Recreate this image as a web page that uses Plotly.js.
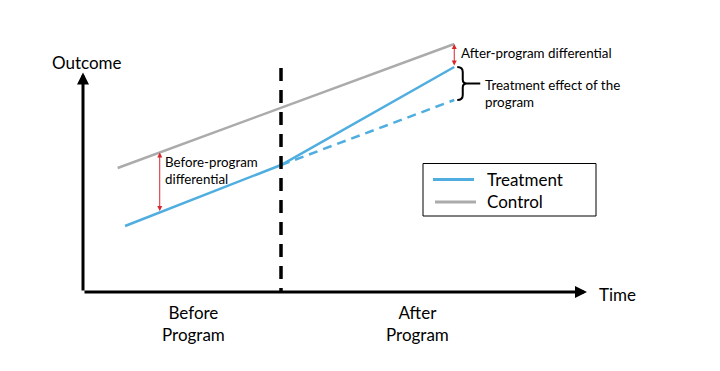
<!DOCTYPE html>
<html>
<head>
<meta charset="utf-8">
<script src="https://cdn.plot.ly/plotly-3.0.1.min.js"></script>
<style>
  html, body { margin: 0; padding: 0; background: #ffffff; }
  #chart { width: 720px; height: 371px; }
</style>
</head>
<body>
<div id="chart"></div>
<script>
// ---- Data (conceptual units: time, outcome) ----
const periodLabels = ['Before<br>Program', 'After<br>Program'];
const periodCenters = [2.23, 6.75];
const programTime = 4;
const controlTime = [0.70, 7.50];
const controlOutcome = [6.20, 12.40];
const treatmentTime = [0.85, 4.00, 7.50];
const treatmentOutcome = [3.30, 6.35, 11.25];
const counterfactualTime = [4.00, 7.50];
const counterfactualOutcome = [6.35, 9.60];
const beforeDiffTime = 1.55;
const seriesNames = ['Treatment', 'Control'];
const seriesColors = ['#4FAEDF', '#ABABAB'];

// ---- Layout geometry ----
const W = 720, H = 371;
const ox = 83, oy = 292, sx = 49.5, sy = 20;
const X = px => (px - ox) / sx;
const Y = py => (oy - py) / sy;
const PX = t => ox + t * sx;
const PY = v => oy - v * sy;
const axisTopOutcome = Y(72.5);
const axisEndTime = X(587);
const programLineTop = Y(68);

function interp(ts, vs, t) {
  for (let i = 0; i < ts.length - 1; i++) {
    if (t >= ts[i] && t <= ts[i + 1]) {
      return vs[i] + (vs[i + 1] - vs[i]) * (t - ts[i]) / (ts[i + 1] - ts[i]);
    }
  }
  return vs[vs.length - 1];
}

const font = 'Lato, "Open Sans", sans-serif';

const traces = [
  { x: controlTime, y: controlOutcome, mode: 'lines', name: seriesNames[1],
    line: { color: seriesColors[1], width: 2.5 }, hoverinfo: 'skip', showlegend: false },
  { x: counterfactualTime, y: counterfactualOutcome, mode: 'lines', name: 'Counterfactual',
    line: { color: seriesColors[0], width: 2.5, dash: '9px,6px' }, hoverinfo: 'skip', showlegend: false },
  { x: treatmentTime, y: treatmentOutcome, mode: 'lines', name: seriesNames[0],
    line: { color: seriesColors[0], width: 2.5 }, hoverinfo: 'skip', showlegend: false },
  { x: [programTime, programTime], y: [programLineTop, 0], mode: 'lines', name: 'Program start',
    line: { color: '#000000', width: 3.5, dash: '13px,9px' }, hoverinfo: 'skip', showlegend: false }
];

const endT = treatmentTime[treatmentTime.length - 1];
const ctrlEnd = interp(controlTime, controlOutcome, endT);
const trtEnd = treatmentOutcome[treatmentOutcome.length - 1];
const cfEnd = counterfactualOutcome[counterfactualOutcome.length - 1];
const ctrlBefore = interp(controlTime, controlOutcome, beforeDiffTime);
const trtBefore = interp(treatmentTime, treatmentOutcome, beforeDiffTime);

// brace (shape built from data end points)
const bx = PX(endT) + 3, byTop = PY(trtEnd), byBot = PY(cfEnd), bmid = (byTop + byBot) / 2;
const bxi = bx + 5.5;
const pts = [
  ['M', bx, byTop], ['Q', bxi, byTop, bxi, byTop + 5], ['L', bxi, bmid - 4],
  ['Q', bxi, bmid, bxi + 4, bmid], ['L', bx + 23, bmid],
  ['M', bxi + 4, bmid], ['Q', bxi, bmid, bxi, bmid + 4], ['L', bxi, byBot - 5],
  ['Q', bxi, byBot, bx, byBot]
];
const bracePath = pts.map(p => {
  let s = p[0];
  for (let i = 1; i < p.length; i += 2) s += ' ' + X(p[i]).toFixed(4) + ',' + Y(p[i + 1]).toFixed(4);
  return s;
}).join(' ');

const red = '#D9262C';
const annotations = [
  // axes arrows
  { x: 0, y: axisTopOutcome, ax: 0, ay: 0, xref: 'x', yref: 'y', axref: 'x', ayref: 'y',
    showarrow: true, arrowhead: 2, arrowsize: 0.8, arrowwidth: 3, arrowcolor: '#000', text: '' },
  { x: axisEndTime, y: 0, ax: 0, ay: 0, xref: 'x', yref: 'y', axref: 'x', ayref: 'y',
    showarrow: true, arrowhead: 2, arrowsize: 0.8, arrowwidth: 3, arrowcolor: '#000', text: '' },
  // differential arrows
  { x: beforeDiffTime, y: ctrlBefore, ax: beforeDiffTime, ay: trtBefore, xref: 'x', yref: 'y', axref: 'x', ayref: 'y',
    showarrow: true, arrowhead: 2, arrowside: 'end+start', arrowsize: 1.0, arrowwidth: 1, arrowcolor: red, text: '' },
  { x: endT, y: ctrlEnd, ax: endT, ay: trtEnd, xref: 'x', yref: 'y', axref: 'x', ayref: 'y',
    showarrow: true, arrowhead: 2, arrowside: 'end+start', arrowsize: 1.0, arrowwidth: 1, arrowcolor: red, text: '' },
  // axis titles
  { x: 50 / W, y: 1 - 63 / H, xref: 'paper', yref: 'paper', xanchor: 'left', yanchor: 'middle',
    text: 'Outcome', showarrow: false, font: { family: font, size: 17, color: '#000' } },
  { x: 597 / W, y: 1 - 294 / H, xref: 'paper', yref: 'paper', xanchor: 'left', yanchor: 'middle',
    text: 'Time', showarrow: false, font: { family: font, size: 17, color: '#000' } },
  // text notes
  { x: 163 / W, y: 1 - 170.5 / H, xref: 'paper', yref: 'paper', xanchor: 'left', yanchor: 'middle', align: 'left',
    text: 'Before-program<br>differential', showarrow: false, font: { family: font, size: 13.3, color: '#000' } },
  { x: 459 / W, y: 1 - 53 / H, xref: 'paper', yref: 'paper', xanchor: 'left', yanchor: 'middle',
    text: 'After-program differential', showarrow: false, font: { family: font, size: 13.4, color: '#000' } },
  { x: 483 / W, y: 1 - 93.5 / H, xref: 'paper', yref: 'paper', xanchor: 'left', yanchor: 'middle', align: 'left',
    text: 'Treatment effect of the<br>program', showarrow: false, font: { family: font, size: 13.4, color: '#000' } },
  // legend texts
  { x: 485 / W, y: 1 - 179 / H, xref: 'paper', yref: 'paper', xanchor: 'left', yanchor: 'middle',
    text: seriesNames[0], showarrow: false, font: { family: font, size: 17, color: '#000' } },
  { x: 485 / W, y: 1 - 201 / H, xref: 'paper', yref: 'paper', xanchor: 'left', yanchor: 'middle',
    text: seriesNames[1], showarrow: false, font: { family: font, size: 17, color: '#000' } }
];
periodLabels.forEach((lab, i) => {
  annotations.push({ x: periodCenters[i], y: Y(323), xref: 'x', yref: 'y', xanchor: 'center', yanchor: 'middle',
    text: lab, showarrow: false, align: 'center', font: { family: font, size: 17, color: '#000' } });
});

const shapes = [
  { type: 'path', path: bracePath, xref: 'x', yref: 'y', line: { color: '#000', width: 2 } },
  // legend box
  { type: 'rect', xref: 'paper', yref: 'paper', x0: 423 / W, x1: 596 / W, y0: 1 - 163.5 / H, y1: 1 - 216 / H,
    line: { color: '#000', width: 1 }, fillcolor: 'rgba(0,0,0,0)' },
  { type: 'line', xref: 'paper', yref: 'paper', x0: 433 / W, x1: 474 / W, y0: 1 - 179.5 / H, y1: 1 - 179.5 / H,
    line: { color: seriesColors[0], width: 3 } },
  { type: 'line', xref: 'paper', yref: 'paper', x0: 435 / W, x1: 476 / W, y0: 1 - 202 / H, y1: 1 - 202 / H,
    line: { color: seriesColors[1], width: 3 } }
];

const hidden = { showgrid: false, zeroline: false, showticklabels: false, ticks: '', showline: false, fixedrange: true };
const layout = {
  width: W, height: H,
  margin: { l: 0, r: 0, t: 0, b: 0, pad: 0 },
  paper_bgcolor: '#ffffff', plot_bgcolor: '#ffffff',
  xaxis: Object.assign({ range: [X(0), X(W)], domain: [0, 1] }, hidden),
  yaxis: Object.assign({ range: [Y(H), Y(0)], domain: [0, 1] }, hidden),
  showlegend: false,
  annotations: annotations,
  shapes: shapes
};

Plotly.newPlot('chart', traces, layout, { displayModeBar: false, staticPlot: true });
</script>
</body>
</html>
